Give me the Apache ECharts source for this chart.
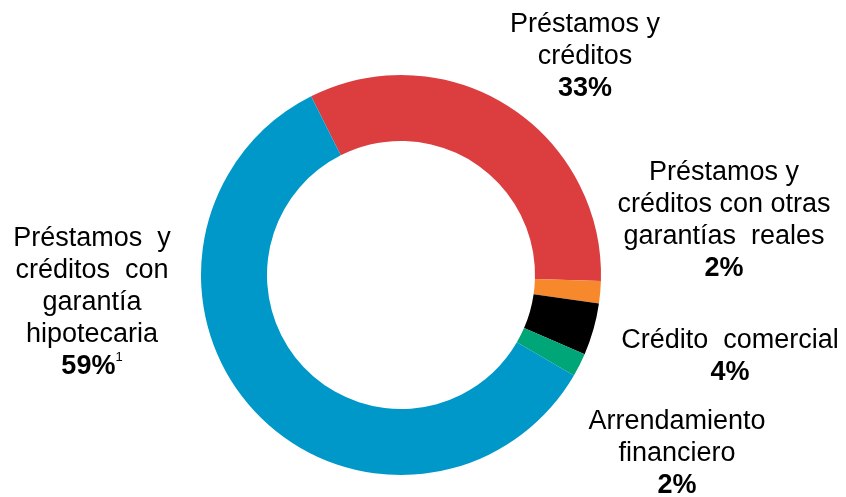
<!DOCTYPE html>
<html>
<head>
<meta charset="utf-8">
<script src="https://cdn.jsdelivr.net/npm/echarts@6/dist/echarts.min.js"></script>
<style>html,body{margin:0;padding:0;background:#fff}#c{width:846px;height:497px}</style>
</head>
<body>
<div id="c"></div>
<script>
const categories = [
  'Préstamos y\ncréditos',
  'Préstamos y\ncréditos con otras\ngarantías  reales',
  'Crédito  comercial',
  'Arrendamiento\nfinanciero',
  'Préstamos  y\ncréditos  con\ngarantía\nhipotecaria'
];
const values = [32.9, 1.8, 4.2, 1.9, 59.2];
const footnotes = ['', '', '', '', '1'];
const colors = ['#DC3D3F', '#F7882C', '#000000', '#00A678', '#0098C8'];

// label block centres (layout only)
const labelPos = [[585, 57], [724, 221], [730, 357], [677, 454], [92, 303]];

const chart = echarts.init(document.getElementById('c'));
const font = '"Liberation Sans", Arial, sans-serif';
chart.setOption({
  animation: false,
  series: [{
    type: 'pie',
    center: [401, 275],
    radius: [134, 200],
    startAngle: 116.7,
    clockwise: true,
    avoidLabelOverlap: false,
    silent: true,
    emphasis: { disabled: true },
    itemStyle: { borderWidth: 0 },
    labelLine: { show: false },
    label: {
      show: true,
      position: 'outside',
      color: '#000',
      fontFamily: font,
      formatter: function (p) {
        const s = footnotes[p.dataIndex] ? '{sup|' + footnotes[p.dataIndex] + '}' : '';
        const lines = p.name.split('\n').map(l => '{n|' + l + '}').join('\n');
        return lines + '\n{p|' + Math.round(p.percent) + '%}' + s;
      },
      rich: {
        n: { fontSize: 27, lineHeight: 32, fontFamily: font, color: '#000' },
        p: { fontSize: 27, lineHeight: 33, fontWeight: 'bold', fontFamily: font, color: '#000' },
        sup: { fontSize: 13, lineHeight: 33, fontFamily: font, color: '#000', padding: [0, 0, 20, 0] }
      }
    },
    labelLayout: function (params) {
      const pos = labelPos[params.dataIndex];
      return { x: pos[0], y: pos[1], align: 'center', verticalAlign: 'middle', hideOverlap: false };
    },
    data: categories.map((c, i) => ({ name: c, value: values[i], itemStyle: { color: colors[i] } }))
  }]
});
</script>
</body>
</html>
